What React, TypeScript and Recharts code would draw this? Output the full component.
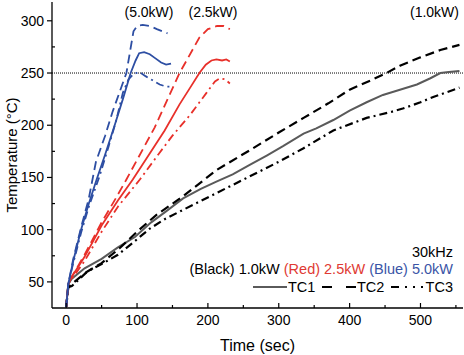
import React from 'react'
import { LineChart, Line, XAxis, YAxis, ReferenceLine } from 'recharts'

// [time (s), temperature (°C)]
const blueTC1 = [[0, 26], [3, 48], [10, 70], [21, 100], [32, 125], [43, 148], [55, 172], [68, 199], [80, 225], [91, 250], [98, 262], [103, 269], [110, 270], [118, 268], [126, 264], [134, 260], [141, 258], [148, 259]]
const blueTC2 = [[0, 26], [3, 48], [10, 72], [21, 102], [32, 130], [42, 165], [55, 190], [65, 212], [75, 231], [85, 250], [90, 270], [95, 290], [100, 295], [108, 296], [118, 295], [128, 292], [143, 288]]
const blueTC3 = [[0, 26], [3, 48], [10, 68], [21, 97], [32, 122], [47, 151], [60, 180], [70, 203], [80, 231], [88, 244], [95, 249], [103, 251], [112, 247], [122, 243], [132, 239], [141, 237], [150, 237]]

const redTC1 = [[0, 26], [3, 48], [8, 55], [26, 74], [50, 104], [73, 128], [94, 148], [117, 172], [139, 195], [160, 220], [175, 236], [188, 250], [197, 258], [205, 262], [212, 263], [220, 262], [226, 263], [231, 261]]
const redTC2 = [[0, 26], [3, 48], [8, 55], [26, 76], [50, 107], [70, 130], [85, 148], [125, 198], [160, 250], [188, 284], [200, 292], [213, 295], [222, 295], [231, 292]]
const redTC3 = [[0, 26], [3, 48], [8, 53], [26, 70], [50, 98], [73, 122], [104, 148], [130, 172], [150, 190], [175, 210], [198, 231], [210, 242], [217, 245], [224, 244], [231, 240]]

const blackTC1 = [[0, 26], [3, 48], [8, 53], [26, 63], [50, 72], [73, 83], [97, 93], [120, 107], [140, 117], [165, 130], [190, 139], [212, 146], [235, 153], [259, 162], [283, 171], [306, 180], [335, 192], [353, 197], [377, 205], [400, 214], [424, 222], [447, 229], [471, 234], [495, 239], [514, 245], [528, 250], [540, 251], [555, 252]]
const blackTC2 = [[0, 26], [3, 45], [15, 52], [30, 60], [50, 68], [75, 82], [100, 98], [127, 114], [165, 132], [212, 157], [259, 176], [300, 193], [335, 207], [370, 221], [400, 234], [430, 243], [452, 250], [471, 257], [500, 265], [528, 272], [555, 277]]
const blackTC3 = [[0, 26], [3, 45], [8, 46], [30, 60], [50, 67], [73, 76], [95, 88], [118, 101], [139, 110], [165, 119], [212, 135], [259, 151], [300, 165], [335, 178], [377, 195], [424, 207], [460, 213], [475, 216], [500, 222], [518, 227], [551, 235], [555, 236]]

const xTicks = [0, 50, 100, 150, 200, 250, 300, 350, 400, 450, 500, 550]
const yTicks = [50, 75, 100, 125, 150, 175, 200, 225, 250, 275, 300]

const FONT = '"Liberation Sans", Arial, sans-serif'
const RED = '#e8302a'
const BLUE = '#2d4ea3'
const GREY = '#5a5a5a'
const DASH = '9 5'
const DASHDOT = '8 4 2 4'

const toPts = (arr: number[][]) => arr.map(([t, v]) => ({ t, v }))

const XTick = (props: any) => {
  const { x, y, payload } = props
  const major = payload.value % 100 === 0
  return (
    <g>
      <line x1={x} x2={x} y1={y} y2={y - (major ? 5 : 3)} stroke="#000" strokeWidth={1.2} />
      {major && (
        <text x={x} y={y + 17} textAnchor="middle" fontSize={14} fontFamily={FONT} fill="#000">
          {payload.value}
        </text>
      )}
    </g>
  )
}

const YTick = (props: any) => {
  const { x, y, payload } = props
  const major = payload.value % 50 === 0
  return (
    <g>
      {major ? (
        <line x1={x - 5} x2={x} y1={y} y2={y} stroke="#000" strokeWidth={1.2} />
      ) : (
        <line x1={x} x2={x + 3} y1={y} y2={y} stroke="#000" strokeWidth={1.2} />
      )}
      {major && (
        <text x={x - 8} y={y + 5} textAnchor="end" fontSize={14} fontFamily={FONT} fill="#000">
          {payload.value}
        </text>
      )}
    </g>
  )
}

const series = [
  { key: 'bk1', data: blackTC1, color: GREY, dash: undefined, w: 2 },
  { key: 'bk2', data: blackTC2, color: '#000', dash: DASH, w: 2.2 },
  { key: 'bk3', data: blackTC3, color: '#000', dash: DASHDOT, w: 2.2 },
  { key: 'r1', data: redTC1, color: RED, dash: undefined, w: 1.8 },
  { key: 'r2', data: redTC2, color: RED, dash: DASH, w: 1.8 },
  { key: 'r3', data: redTC3, color: RED, dash: DASHDOT, w: 1.8 },
  { key: 'b1', data: blueTC1, color: BLUE, dash: undefined, w: 1.8 },
  { key: 'b2', data: blueTC2, color: BLUE, dash: DASH, w: 1.8 },
  { key: 'b3', data: blueTC3, color: BLUE, dash: DASHDOT, w: 1.8 },
]

export default function App() {
  return (
    <div style={{ position: 'absolute', left: 0, top: 0, width: 464, height: 355, background: '#fff', fontFamily: FONT }}>
      <LineChart width={464} height={355} margin={{ top: 2, right: 1, bottom: 0, left: 0 }}>
        <XAxis
          type="number"
          dataKey="t"
          domain={[-20, 560]}
          ticks={xTicks}
          interval={0}
          allowDataOverflow
          height={47}
          tickSize={0}
          tickMargin={0}
          tickLine={false}
          tick={<XTick />}
          axisLine={{ stroke: '#000', strokeWidth: 1.3 }}
          label={{ value: 'Time (sec)', position: 'insideBottom', offset: 4, style: { fontSize: 16, fontFamily: FONT, fill: '#000' } }}
        />
        <XAxis xAxisId="top" orientation="top" type="number" domain={[-20, 560]} height={0} tick={false} tickLine={false} axisLine={{ stroke: '#000', strokeWidth: 1.3 }} />
        <YAxis
          type="number"
          domain={[25, 318]}
          ticks={yTicks}
          interval={0}
          allowDataOverflow
          width={52}
          tickSize={0}
          tickMargin={0}
          tickLine={false}
          tick={<YTick />}
          axisLine={{ stroke: '#000', strokeWidth: 1.3 }}
          label={{ value: 'Temperature (°C)', angle: -90, position: 'insideLeft', offset: 12, style: { fontSize: 15, fontFamily: FONT, fill: '#000', textAnchor: 'middle' } }}
        />
        <YAxis yAxisId="right" orientation="right" type="number" domain={[25, 318]} width={0} tick={false} tickLine={false} axisLine={{ stroke: '#000', strokeWidth: 1.3 }} />
        <ReferenceLine y={250} stroke="#000" strokeWidth={1} strokeDasharray="1 1" />
        {series.map(s => (
          <Line
            key={s.key}
            data={toPts(s.data)}
            dataKey="v"
            type="linear"
            stroke={s.color}
            strokeWidth={s.w}
            strokeDasharray={s.dash}
            dot={false}
            activeDot={false}
            isAnimationActive={false}
          />
        ))}
      </LineChart>

      {/* annotations + legend */}
      <svg width={464} height={355} style={{ position: 'absolute', left: 0, top: 0, pointerEvents: 'none' }} fontFamily={FONT} fontSize={14}>
        <text x={149} y={17} textAnchor="middle">(5.0kW)</text>
        <text x={213} y={17} textAnchor="middle">(2.5kW)</text>
        <text x={459} y={17} textAnchor="end">(1.0kW)</text>

        <text x={453} y={257} textAnchor="end" fontSize={14.5}>30kHz</text>
        <text x={453} y={274} textAnchor="end" fontSize={14.5}>
          <tspan fill="#000">(Black) 1.0kW </tspan>
          <tspan fill="#e03a33">(Red) 2.5kW </tspan>
          <tspan fill="#3a55a6">(Blue) 5.0kW</tspan>
        </text>

        <line x1={253} x2={287} y1={287} y2={287} stroke={GREY} strokeWidth={2} />
        <text x={288} y={292} fontSize={14.5}>TC1</text>
        <line x1={322} x2={356} y1={287} y2={287} stroke="#000" strokeWidth={2.2} strokeDasharray="10 14" />
        <text x={357} y={292} fontSize={14.5}>TC2</text>
        <line x1={391} x2={426} y1={287} y2={287} stroke="#000" strokeWidth={2.2} strokeDasharray="8 6 2 6 2 6 2" />
        <text x={453} y={292} textAnchor="end" fontSize={14.5}>TC3</text>
      </svg>
    </div>
  )
}
